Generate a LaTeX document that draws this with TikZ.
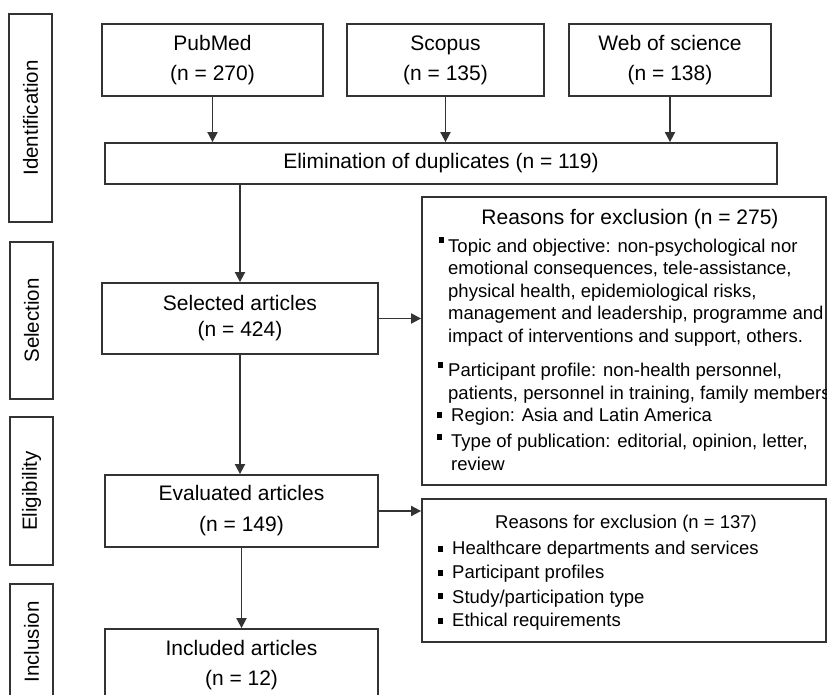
\documentclass[tikz,border=0pt]{standalone}
\usepackage{fontspec}
\setmainfont{Liberation Sans}
\usetikzlibrary{arrows.meta}
\newcommand\sqbul[2]{\llap{\rule[#1]{5pt}{6pt}\hspace{#2}}}
\begin{document}
\begin{tikzpicture}[x=1pt,y=-1pt,
  box/.style={draw=black!80,line width=1.8pt,inner sep=0pt,text=black,align=center,font=\fontsize{21}{30}\selectfont},
  stage/.style={box,rotate=90,minimum height=43pt,font=\fontsize{20.5}{24}\selectfont},
  flow/.style={draw=black!80,line width=1.8pt,-{Triangle[length=10pt,width=10pt]}},
  why/.style={inner sep=0pt,align=left,anchor=base west,text=black,font=\fontsize{18.5}{22.5}\selectfont}]
\clip (0,0) rectangle (827,695);
\node[stage,minimum width=208pt] (ident) at (30.5,118) {Identification};
\node[stage,minimum width=157pt] (selstage) at (31.5,320.5) {Selection};
\node[stage,minimum width=148pt] (elistage) at (31.5,491) {Eligibility};
\node[stage,minimum width=116pt] (inclstage) at (31.5,642) {Inclusion};
\node[box,minimum width=221pt,minimum height=72pt] (pub) at (212.5,60) {PubMed\\(n = 270)};
\node[box,minimum width=197pt,minimum height=72pt] (sco) at (445.5,60) {Scopus\\(n = 135)};
\node[box,minimum width=202pt,minimum height=72pt] (wos) at (670,60) {Web of science\\(n = 138)};
\node[box,minimum width=672pt,minimum height=41pt] (elim) at (441,163.5) {Elimination of duplicates (n = 119)};
\node[box,minimum width=276pt,minimum height=71pt,font=\fontsize{21}{26}\selectfont] (sel) at (240,318.5) {Selected articles\\(n = 424)};
\node[box,minimum width=273pt,minimum height=72pt,font=\fontsize{21}{31}\selectfont] (eval) at (241.5,511) {Evaluated articles\\(n = 149)};
\node[box,minimum width=273pt,minimum height=72pt] (incl) at (241.5,665) {Included articles\\(n = 12)};
\node[box,minimum width=404pt,minimum height=288pt] (rone) at (624,341) {};
\node[box,minimum width=404pt,minimum height=143pt] (rtwo) at (624,570.5) {};
\node[anchor=base,inner sep=0pt,font=\fontsize{21}{24}\selectfont] (ronet) at (630,225) {Reasons for exclusion (n = 275)};
\node[why] (topic) at (448,342) {\sqbul{9pt}{4pt}Topic and objective: non-psychological nor\\emotional consequences, tele-assistance,\\physical health, epidemiological risks,\\management and leadership, programme and\\impact of interventions and support, others.};
\node[why] (profile) at (448,399) {\sqbul{9pt}{5pt}Participant profile: non-health personnel,\\patients, personnel in training, family members};
\node[why] (region) at (451,421) {\sqbul{3pt}{9pt}Region: Asia and Latin America};
\node[why] (pubtype) at (451,470) {\sqbul{8pt}{9pt}Type of publication: editorial, opinion, letter,\\review};
\node[anchor=base,inner sep=0pt,font=\fontsize{18.5}{22}\selectfont] (rtwot) at (626,528) {Reasons for exclusion (n = 137)};
\node[why] (dept) at (452,554) {\sqbul{2pt}{9pt}Healthcare departments and services};
\node[why] (profiles) at (452,578) {\sqbul{2pt}{9pt}Participant profiles};
\node[why] (studytype) at (452,603) {\sqbul{4pt}{9pt}Study/participation type};
\node[why] (ethics) at (452,626) {\sqbul{2pt}{9pt}Ethical requirements};
\draw[flow] (pub.south) -- (pub.south |- elim.north);
\draw[flow] (sco.south) -- (sco.south |- elim.north);
\draw[flow] (wos.south) -- (wos.south |- elim.north);
\draw[flow] (sel.north |- elim.south) -- (sel.north);
\draw[flow] (sel.south) -- (sel.south |- eval.north);
\draw[flow] (eval.south) -- (incl.north);
\draw[flow] (sel.east) -- (sel.east -| rone.west);
\draw[flow] (eval.east) -- (eval.east -| rtwo.west);
\end{tikzpicture}
\end{document}
